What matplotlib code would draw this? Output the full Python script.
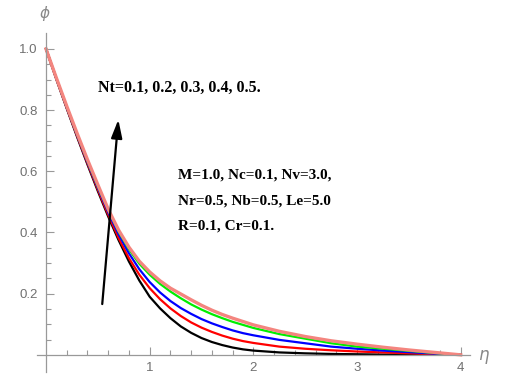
import numpy as np
import matplotlib.pyplot as plt

# concentration profiles phi(eta) for increasing Nt
eta = [0.0, 0.1, 0.2, 0.3, 0.4, 0.5, 0.6, 0.7, 0.8, 0.9, 1.0,
       1.1, 1.2, 1.3, 1.4, 1.5, 1.6, 1.7, 1.8, 1.9, 2.0,
       2.25, 2.5, 2.75, 3.0, 3.25, 3.5, 3.75, 4.0]
phi_nt01 = [1.0, 0.90, 0.805, 0.712, 0.622, 0.535, 0.452, 0.375, 0.305, 0.243, 0.19,
            0.152, 0.12, 0.093, 0.072, 0.055, 0.042, 0.032, 0.024, 0.018, 0.014,
            0.008, 0.005, 0.003, 0.002, 0.001, 0.001, 0.0005, 0.0]
phi_nt02 = [1.0, 0.902, 0.807, 0.715, 0.626, 0.54, 0.458, 0.382, 0.316, 0.262, 0.218,
            0.182, 0.152, 0.127, 0.106, 0.089, 0.075, 0.063, 0.053, 0.045, 0.039,
            0.027, 0.02, 0.015, 0.011, 0.008, 0.005, 0.0025, 0.0]
phi_nt03 = [1.0, 0.903, 0.809, 0.718, 0.63, 0.546, 0.466, 0.394, 0.332, 0.28, 0.238,
            0.204, 0.176, 0.153, 0.134, 0.117, 0.103, 0.091, 0.08, 0.071, 0.064,
            0.049, 0.038, 0.027, 0.02, 0.014, 0.009, 0.004, 0.0]
phi_nt04 = [1.0, 0.904, 0.811, 0.721, 0.634, 0.551, 0.473, 0.403, 0.345, 0.298, 0.262,
            0.232, 0.207, 0.185, 0.165, 0.148, 0.133, 0.12, 0.108, 0.098, 0.088,
            0.068, 0.053, 0.038, 0.027, 0.02, 0.013, 0.006, 0.0]
phi_nt05 = [1.0, 0.905, 0.813, 0.724, 0.638, 0.556, 0.476, 0.408, 0.352, 0.306, 0.271,
            0.242, 0.218, 0.199, 0.18, 0.162, 0.146, 0.132, 0.12, 0.109, 0.098,
            0.077, 0.06, 0.046, 0.035, 0.025, 0.016, 0.008, 0.0]

series = [phi_nt01, phi_nt02, phi_nt03, phi_nt04, phi_nt05]
colors = ['black', '#ff0000', '#0000ff', '#00ee00', '#f4857f']
widths = [1.6, 1.6, 1.6, 1.6, 2.4]

x_ticks = [1, 2, 3, 4]
y_ticks = [0.2, 0.4, 0.6, 0.8, 1.0]

fig = plt.figure(figsize=(5.08, 3.76), dpi=100)
ax = fig.add_axes([37 / 508, 4 / 376, 433 / 508, 339 / 376])

for ys, c, lw in zip(series, colors, widths):
    ax.plot(eta, ys, color=c, lw=lw, solid_joinstyle='round')

ax.set_xlim(-0.087, 4.09)
ax.set_ylim(-0.056, 1.052)

# Mathematica-like axes through the origin
for side in ['top', 'right']:
    ax.spines[side].set_visible(False)
for side in ['left', 'bottom']:
    ax.spines[side].set_position(('data', 0))
    ax.spines[side].set_color('#999999')
    ax.spines[side].set_linewidth(0.9)

ax.set_xticks(x_ticks)
ax.set_xticklabels([str(v) for v in x_ticks])
ax.set_xticks(np.arange(0.2, 4.0, 0.2), minor=True)
ax.set_yticks(y_ticks)
ax.set_yticklabels(['%.1f' % v for v in y_ticks])
ax.set_yticks(np.arange(0.05, 1.05, 0.05), minor=True)

ax.tick_params(which='both', direction='in', color='#999999', width=0.8,
               labelcolor='#707070', labelsize=9.5)
ax.tick_params(which='major', length=6)
ax.tick_params(which='minor', length=3.5)
ax.tick_params(axis='x', pad=5)
ax.tick_params(axis='y', pad=6)
for lab in ax.get_xticklabels() + ax.get_yticklabels():
    lab.set_family(['Liberation Sans Narrow', 'Liberation Sans', 'DejaVu Sans'])

ax.text(-0.01, 1.115, 'ϕ', color='#888888', fontsize=11, style='italic',
        ha='center', va='center', clip_on=False)
ax.text(4.22, 0.0, 'η', color='#888888', fontsize=12, style='italic',
        ha='center', va='center', clip_on=False)

ax.annotate('', xy=(0.70, 0.778), xytext=(0.54, 0.157),
            arrowprops=dict(arrowstyle='-|>,head_length=1.1,head_width=0.33',
                            color='black', lw=1.6))

serif = ['Liberation Serif', 'DejaVu Serif']
ax.text(0.5, 0.872, 'Nt=0.1, 0.2, 0.3, 0.4, 0.5.', family=serif,
        fontweight='bold', fontsize=11.5, va='center')
params = ['M=1.0, Nc=0.1, Nv=3.0,', 'Nr=0.5, Nb=0.5, Le=5.0', 'R=0.1, Cr=0.1.']
for i, s in enumerate(params):
    ax.text(1.27, 0.587 - i * 0.083, s, family=serif, fontweight='bold',
            fontsize=11, va='center')

fig.savefig('out.png', dpi=100)
